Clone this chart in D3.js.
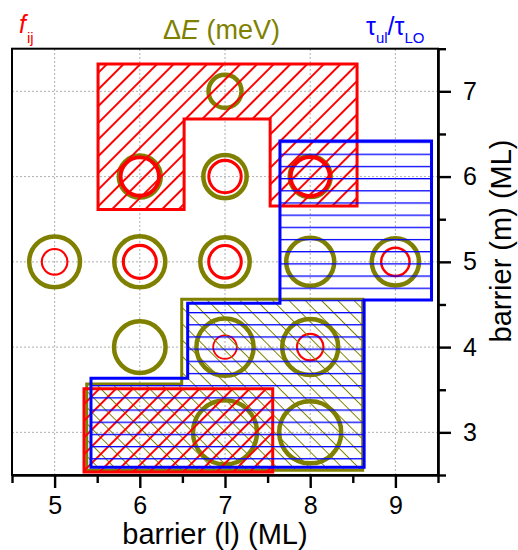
<!DOCTYPE html>
<html>
<head>
<meta charset="utf-8">
<script src="https://cdn.jsdelivr.net/npm/d3@7"></script>
<style>
  html, body { margin: 0; padding: 0; background: #fff; }
  svg { display: block; font-family: "Liberation Sans", Arial, sans-serif; }
</style>
</head>
<body>
<svg id="chart" width="518" height="550"></svg>
<script>
// ---- data ----
const xTicks = [5, 6, 7, 8, 9];
const yTicks = [3, 4, 5, 6, 7];
const xMinor = [4.5, 5.5, 6.5, 7.5, 8.5, 9.5];
const yMinor = [2.5, 3.5, 4.5, 5.5, 6.5, 7.5];

// Delta E circles (olive): barrier l, barrier m, magnitude
const dE_l = [7, 6, 7, 8, 5, 6, 7, 8, 9, 6, 7, 8, 7, 8];
const dE_m = [7, 6, 6, 6, 5, 5, 5, 5, 5, 4, 4, 4, 3, 3];
const dE_v = [16.5, 21, 21.7, 20.5, 25.4, 25.5, 24.7, 24, 23.6, 25.8, 28.6, 28, 32, 31];

// f_ij circles (red)
const f_l = [6, 7, 8, 5, 6, 7, 9, 7, 8];
const f_m = [6, 6, 6, 5, 5, 5, 5, 4, 4];
const f_v = [19.2, 16.2, 19.6, 12.8, 16.5, 16.3, 14.2, 11.8, 13.2];

// regions (l, m)
const fRegionUpper = [[5.51,7.32],[8.55,7.32],[8.55,5.655],[7.53,5.655],[7.53,6.675],[6.52,6.675],[6.52,5.615],[5.51,5.615]];
const fRegionLower = [[5.345,3.512],[7.56,3.512],[7.56,2.535],[5.345,2.535]];
const dERegion = [[5.377,3.567],[6.492,3.567],[6.492,4.56],[8.616,4.56],[8.616,2.555],[5.377,2.555]];
const tauRegion = [[7.645,6.417],[9.424,6.417],[9.424,4.553],[8.633,4.553],[8.633,2.59],[5.427,2.59],[5.427,3.634],[6.562,3.634],[6.562,4.514],[7.645,4.514]];

// ---- layout ----
const RED = "#ff0000", OLIVE = "#808000", BLUE = "#0000ff";
const margin = {left: 12, top: 48.7, right: 80, bottom: 75};
const W = 518, H = 550;
const x = d3.scaleLinear().domain([4.5, 9.5]).range([margin.left, W - margin.right]);
const y = d3.scaleLinear().domain([2.5, 7.5]).range([H - margin.bottom, margin.top]);
const rScale = d3.scaleLinear().domain([0, 35]).range([0, 35]);
const fWidth = d3.scaleLinear().domain([11.8, 19.6]).range([1.8, 4]);

const svg = d3.select("#chart");
const defs = svg.append("defs");

function hatch(id, color, angle, spacing, width, offset) {
  const p = defs.append("pattern")
    .attr("id", id).attr("patternUnits", "userSpaceOnUse")
    .attr("width", spacing).attr("height", spacing)
    .attr("patternTransform", `rotate(${angle})`);
  p.append("line")
    .attr("x1", offset).attr("x2", offset)
    .attr("y1", -1).attr("y2", spacing + 1)
    .attr("stroke", color).attr("stroke-width", width)
    .attr("shape-rendering", "crispEdges");
}
hatch("hRed", RED, 45, 11.8, 1.1, 3);
hatch("hOlive", OLIVE, -45, 11.5, 1.1, 3);
// horizontal lines for tau
(function(){
  const s = 12.18;
  const p = defs.append("pattern")
    .attr("id", "hBlue").attr("patternUnits", "userSpaceOnUse")
    .attr("width", s).attr("height", s);
  p.append("line").attr("x1", -1).attr("x2", s + 1)
    .attr("y1", 8.14).attr("y2", 8.14)
    .attr("stroke", BLUE).attr("stroke-width", 1.3);
})();

// gridlines
const grid = svg.append("g");
grid.selectAll("line.gx").data(xTicks).join("line")
  .attr("x1", d => x(d)).attr("x2", d => x(d))
  .attr("y1", y(2.5)).attr("y2", y(7.5))
  .attr("stroke", "#b0b0b0").attr("stroke-width", 1).attr("stroke-dasharray", "2,2");
grid.selectAll("line.gy").data(yTicks).join("line")
  .attr("y1", d => y(d)).attr("y2", d => y(d))
  .attr("x1", x(4.5)).attr("x2", x(9.5))
  .attr("stroke", "#b0b0b0").attr("stroke-width", 1).attr("stroke-dasharray", "2,2");

// circles
svg.append("g").selectAll("circle").data(dE_v.map((v, i) => ({l: dE_l[i], m: dE_m[i], v})))
  .join("circle")
  .attr("cx", d => x(d.l)).attr("cy", d => y(d.m)).attr("r", d => rScale(d.v))
  .attr("fill", "none").attr("stroke", OLIVE).attr("stroke-width", 4.5);
svg.append("g").selectAll("circle").data(f_v.map((v, i) => ({l: f_l[i], m: f_m[i], v})))
  .join("circle")
  .attr("cx", d => x(d.l)).attr("cy", d => y(d.m)).attr("r", d => rScale(d.v))
  .attr("fill", "none").attr("stroke", RED).attr("stroke-width", d => fWidth(d.v));

// regions
const line = d3.line().x(d => x(d[0])).y(d => y(d[1]));
function region(pts, color, pat) {
  svg.append("path").attr("d", line(pts) + "Z")
    .attr("fill", `url(#${pat})`).attr("stroke", color).attr("stroke-width", 3)
    .attr("stroke-linejoin", "miter");
}
region(fRegionUpper, RED, "hRed");
region(dERegion, OLIVE, "hOlive");
region(fRegionLower, RED, "hRed");
region(tauRegion, BLUE, "hBlue");

// frame
svg.append("rect")
  .attr("x", x(4.5)).attr("y", y(7.5))
  .attr("width", x(9.5) - x(4.5)).attr("height", y(2.5) - y(7.5))
  .attr("fill", "none").attr("stroke", "#000").attr("stroke-width", 2);

// axes
function styleAxis(g) {
  g.select(".domain").attr("stroke-width", 2.2);
  g.selectAll(".tick line").attr("stroke-width", 2.4);
  g.selectAll("text").attr("font-size", 25).attr("fill", "#000")
    .attr("font-family", "'Liberation Sans', Arial, sans-serif");
}
const gxMinor = svg.append("g").attr("transform", `translate(0,${y(2.5)})`)
  .call(d3.axisBottom(x).tickValues(xMinor).tickSize(8).tickFormat("").tickSizeOuter(0));
styleAxis(gxMinor);
const gx = svg.append("g").attr("transform", `translate(0,${y(2.5)})`)
  .call(d3.axisBottom(x).tickValues(xTicks).tickSize(13).tickPadding(8).tickSizeOuter(0).tickFormat(d3.format("d")));
styleAxis(gx);
const gyMinor = svg.append("g").attr("transform", `translate(${x(9.5)},0)`)
  .call(d3.axisRight(y).tickValues(yMinor).tickSize(8).tickFormat("").tickSizeOuter(0));
styleAxis(gyMinor);
const gy = svg.append("g").attr("transform", `translate(${x(9.5)},0)`)
  .call(d3.axisRight(y).tickValues(yTicks).tickSize(13).tickPadding(12).tickSizeOuter(0).tickFormat(d3.format("d")));
styleAxis(gy);

// axis titles
svg.append("text").attr("x", 215).attr("y", 544).attr("text-anchor", "middle")
  .attr("font-size", 29).text("barrier (l) (ML)");
svg.append("text").attr("transform", `translate(511,241) rotate(-90)`).attr("text-anchor", "middle")
  .attr("font-size", 29).text("barrier (m) (ML)");

// legend labels
const tf = svg.append("text").attr("x", 19).attr("y", 33).attr("fill", RED).attr("font-size", 25);
tf.append("tspan").attr("font-style", "italic").text("f");
tf.append("tspan").attr("font-size", 15).attr("dy", 10).attr("dx", 1).text("ij");

const te = svg.append("text").attr("x", 163).attr("y", 39).attr("fill", OLIVE).attr("font-size", 27);
te.append("tspan").text("Δ");
te.append("tspan").attr("font-style", "italic").text("E");
te.append("tspan").text(" (meV)");

const tt = svg.append("text").attr("x", 366).attr("y", 35).attr("fill", BLUE).attr("font-size", 25);
tt.append("tspan").text("τ");
tt.append("tspan").attr("font-size", 15).attr("dy", 8).text("ul");
tt.append("tspan").attr("dy", -8).text("/τ");
tt.append("tspan").attr("font-size", 15).attr("dy", 8).text("LO");
</script>
</body>
</html>
